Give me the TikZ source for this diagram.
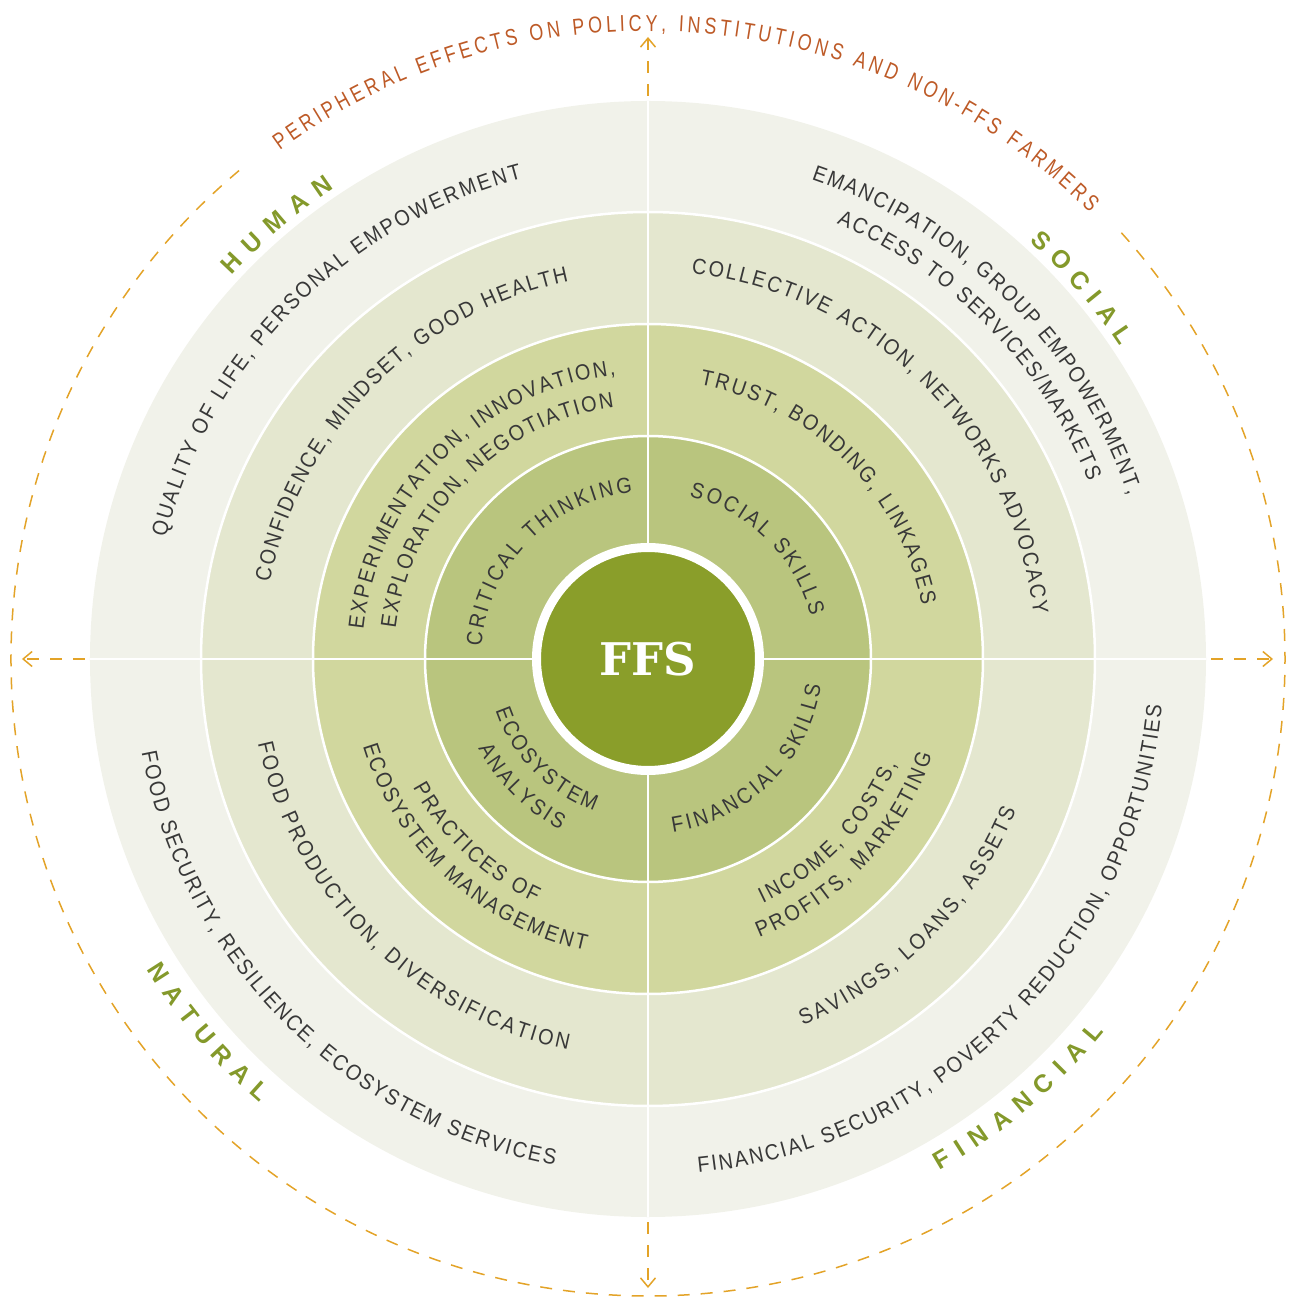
\documentclass[tikz,border=0pt]{standalone}
\usepackage{fontspec}
\setmainfont{Liberation Sans}
\newfontfamily\rfam[FakeStretch=0.9]{Liberation Sans}
\newfontfamily\lfam{Liberation Sans}
\newfontfamily\pfam[FakeStretch=0.78]{Liberation Sans}
\newfontfamily\ffam{DejaVu Serif}
\usetikzlibrary{decorations.text,arrows.meta}
\definecolor{ringA}{HTML}{F1F2EA}
\definecolor{ringB}{HTML}{E4E7CF}
\definecolor{ringC}{HTML}{D1D79E}
\definecolor{ringD}{HTML}{B9C57E}
\definecolor{ffsg}{HTML}{8A9E2A}
\definecolor{txtc}{HTML}{383838}
\definecolor{labc}{HTML}{84992B}
\definecolor{peric}{HTML}{BD5A27}
\definecolor{dashc}{HTML}{E3A328}
\newcommand\rfont{\rfam\fontsize{22}{26}\selectfont}
\newcommand\lfont{\lfam\bfseries\fontsize{25}{29}\selectfont}
\newcommand\pfont{\pfam\fontsize{23}{27}\selectfont}
\newcommand\tarc[4]{\path[#4] (#1:#3) arc[start angle=#1, end angle=#2, radius=#3];}
\tikzset{
  rtxt/.style={decorate, decoration={text along path, text align=fit to path, text={|\rfont\color{txtc}|#1}}},
  ltxt/.style={decorate, decoration={text along path, text align=fit to path, text={|\lfont\color{labc}|#1}}},
  ptxt/.style={decorate, decoration={text along path, text align=fit to path, text={|\pfont\color{peric}|#1}}},
  dashline/.style={draw=dashc, line width=1.5pt, dash pattern=on 12pt off 11pt},
  outarrow/.style={dashline, dash phase=18pt, -{Straight Barb[length=9pt, width=15pt]}},
  sep/.style={draw=white, line width=2.5pt},
  quad/.style={draw=white, line width=1.5pt},
}
\begin{document}
\begin{tikzpicture}
\useasboundingbox (-648pt,-639pt) rectangle (640pt,659pt);
% rings
\fill[ringA] (0,0) circle (558pt);
\filldraw[fill=ringB, sep] (0,0) circle (447pt);
\filldraw[fill=ringC, sep] (0,0) circle (335pt);
\filldraw[fill=ringD, sep] (0,0) circle (223pt);
\draw[quad] (-558pt,0) -- (558pt,0);
\draw[quad] (0,-558pt) -- (0,558pt);
% centre
\node[circle, fill=ffsg, draw=white, line width=9pt, minimum size=223pt, inner sep=0pt,
      font=\ffam\bfseries\fontsize{45}{50}\selectfont, text=white] (ffs) at (0,0) {FFS};
% dashed arrows and circle
\coordinate (oN) at (90:558pt);  \coordinate (tN) at (90:622pt);
\coordinate (oS) at (270:558pt); \coordinate (tS) at (270:629pt);
\coordinate (oW) at (180:558pt); \coordinate (tW) at (180:626pt);
\coordinate (oE) at (0:558pt);   \coordinate (tE) at (0:625pt);
\draw[outarrow] (oN) -- (tN);
\draw[outarrow] (oS) -- (tS);
\draw[outarrow] (oW) -- (tW);
\draw[outarrow] (oE) -- (tE);
\draw[dashline] (42:637pt) arc[start angle=42, end angle=-231, radius=637pt];
% peripheral text
\tarc{125.9}{45.4}{628pt}{ptxt={PERIPHERAL EFFECTS ON POLICY, INSTITUTIONS AND NON-FFS FARMERS}}
% capital labels
\tarc{137.4}{123.7}{566pt}{ltxt={HUMAN}}
\tarc{47.6}{33.5}{566pt}{ltxt={SOCIAL}}
\tarc{211.8}{228.8}{590pt}{ltxt={NATURAL}}
\tarc{-60.3}{-39.3}{589pt}{ltxt={FINANCIAL}}
% top-left
\tarc{165.9}{104.7}{497pt}{rtxt={QUALITY OF LIFE, PERSONAL EMPOWERMENT}}
\tarc{168.5}{101.9}{386pt}{rtxt={CONFIDENCE, MINDSET, GOOD HEALTH}}
\tarc{174.1}{96.5}{286pt}{rtxt={EXPERIMENTATION, INNOVATION,}}
\tarc{173.2}{97.7}{254pt}{rtxt={EXPLORATION, NEGOTIATION}}
\tarc{175.8}{95.3}{167pt}{rtxt={CRITICAL THINKING}}
% top-right
\tarc{71.2}{18.8}{507pt}{rtxt={EMANCIPATION, GROUP EMPOWERMENT,}}
\tarc{66.6}{22.0}{475pt}{rtxt={ACCESS TO SERVICES/MARKETS}}
\tarc{83.6}{6.6}{388pt}{rtxt={COLLECTIVE ACTION, NETWORKS ADVOCACY}}
\tarc{79.3}{11.1}{279pt}{rtxt={TRUST, BONDING, LINKAGES}}
\tarc{75.8}{14.7}{168pt}{rtxt={SOCIAL SKILLS}}
% bottom-left
\tarc{190.5}{259.5}{515pt}{rtxt={FOOD SECURITY, RESILIENCE, ECOSYSTEM SERVICES}}
\tarc{192.2}{258.4}{399pt}{rtxt={FOOD PRODUCTION, DIVERSIFICATION}}
\tarc{208.7}{245.2}{268pt}{rtxt={PRACTICES OF}}
\tarc{197}{257.9}{298pt}{rtxt={ECOSYSTEM MANAGEMENT}}
\tarc{198.8}{250.5}{161pt}{rtxt={ECOSYSTEM}}
\tarc{207.8}{242.8}{192pt}{rtxt={ANALYSIS}}
% bottom-right
\tarc{-81.8}{-8.6}{175pt}{rtxt={FINANCIAL SKILLS}}
\tarc{-64.8}{-22.9}{270pt}{rtxt={INCOME, COSTS,}}
\tarc{-68.2}{-18.7}{300pt}{rtxt={PROFITS, MARKETING}}
\tarc{-67.1}{-22.4}{398pt}{rtxt={SAVINGS, LOANS, ASSETS}}
\tarc{-84.4}{-5.2}{516pt}{rtxt={FINANCIAL SECURITY, POVERTY REDUCTION, OPPORTUNITIES}}
\end{tikzpicture}
\end{document}
